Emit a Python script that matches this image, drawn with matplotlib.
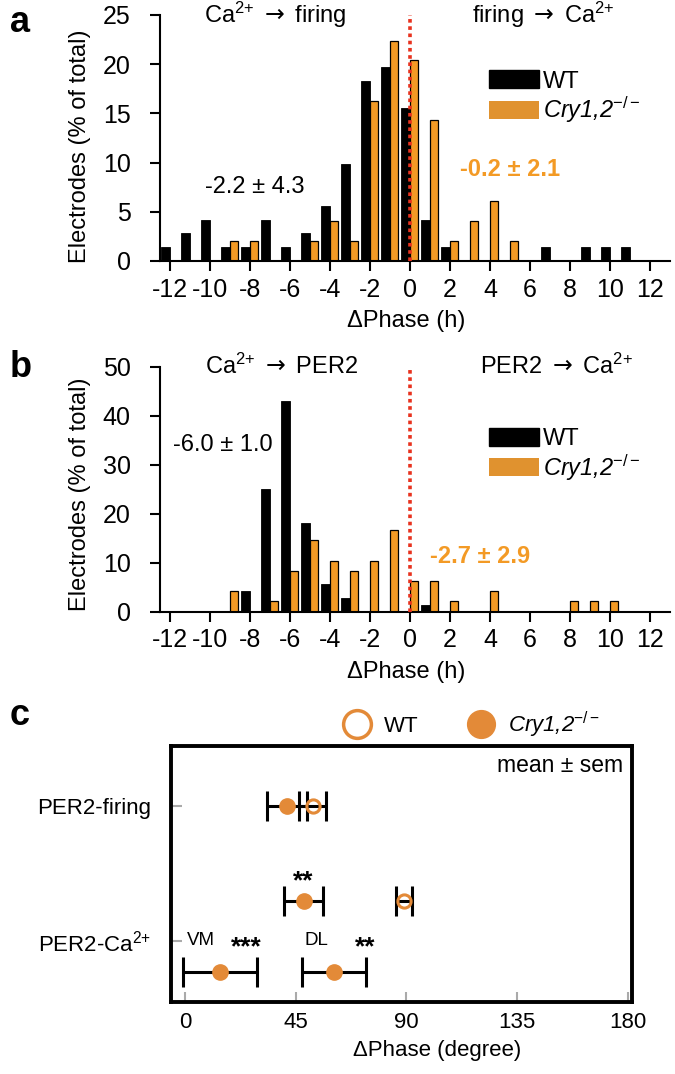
import numpy as np
import matplotlib.pyplot as plt
from matplotlib.patches import Patch
from matplotlib.lines import Line2D

plt.rcParams['font.family'] = ['Liberation Sans', 'DejaVu Sans']
plt.rcParams['mathtext.fontset'] = 'custom'
plt.rcParams['mathtext.rm'] = 'Liberation Sans'
plt.rcParams['mathtext.it'] = 'Liberation Sans:italic'
plt.rcParams['mathtext.bf'] = 'Liberation Sans:bold'
plt.rcParams['mathtext.sf'] = 'DejaVu Sans'
plt.rcParams['axes.unicode_minus'] = False

orange = '#F39A25'
orange_dot = '#E38A38'
red = '#E8321E'

# 1 h bins of phase difference (h)
phase_bins = np.arange(-12, 13)
phase_ticks = np.arange(-12, 13, 2)

# panel a: Ca2+ vs firing (% of electrodes)
a_wt = [1.4, 2.8, 4.2, 1.4, 1.4, 4.2, 1.4, 2.8, 5.6, 9.9, 18.3, 19.7, 15.5,
        4.2, 1.4, 0, 0, 0, 0, 1.4, 0, 1.4, 1.4, 1.4, 0]
a_cry = [0, 0, 0, 2.0, 2.0, 0, 0, 2.0, 4.1, 2.0, 16.3, 22.4, 20.4,
         14.3, 2.0, 4.1, 6.1, 2.0, 0, 0, 0, 0, 0, 0, 0]

# panel b: Ca2+ vs PER2 (% of electrodes)
b_wt = [0, 0, 0, 0, 4.2, 25.0, 43.1, 18.1, 5.6, 2.8, 0, 0, 0,
        1.4, 0, 0, 0, 0, 0, 0, 0, 0, 0, 0, 0]
b_cry = [0, 0, 0, 4.2, 0, 2.1, 8.3, 14.6, 10.4, 8.3, 10.4, 16.7, 6.2,
         6.2, 2.1, 0, 4.2, 0, 0, 0, 2.1, 2.1, 2.1, 0, 0]

# panel c: mean +- sem phase difference (degree)
c_rows = ['PER2-firing', 'PER2-Ca$^{2{+}}$']
c_wt_mean = [52.0, 89.0]
c_wt_sem = [5.5, 3.3]
c_cry_mean = [41.5, 48.2]
c_cry_sem = [8.2, 7.8]
c_regions = ['VM', 'DL']
c_region_mean = [14.1, 60.4]
c_region_sem = [15.0, 13.0]

cry_label = r'Cry1,2$^{-/-}$'
arrow = r'$\mathsf{\rightarrow}$'

fig = plt.figure(figsize=(6.75, 10.74), dpi=100)
W, H = 675, 1074


def px_axes(l, t, r, b):
    return fig.add_axes([l / W, 1 - b / H, (r - l) / W, (b - t) / H])


def hist_panel(ax, wt, cry, ymax, ystep, txt_l, txt_r, wt_txt, cry_txt, ylab_y, leg_y):
    ax.bar(phase_bins - 0.23, wt, width=0.46, color='black', edgecolor='black', lw=0.6, zorder=2)
    ax.bar(phase_bins + 0.2, cry, width=0.4, color=orange, edgecolor='black', lw=0.9, zorder=2)
    ax.axvline(0, color=red, lw=2.6, ls=(0, (1, 1)), zorder=3)
    ax.set_xlim(-12.5, 13)
    ax.set_ylim(0, ymax)
    ax.set_xticks(phase_ticks)
    ax.set_yticks(np.arange(0, ymax + 1, ystep))
    for s in ['top', 'right']:
        ax.spines[s].set_visible(False)
    for s in ['left', 'bottom']:
        ax.spines[s].set_linewidth(1.5)
    ax.tick_params(axis='both', direction='out', length=7, width=1.5, labelsize=18)
    ax.tick_params(axis='y', pad=14)
    ax.tick_params(axis='x', pad=5)
    ax.set_ylabel('Electrodes (% of total)', fontsize=17)
    ax.yaxis.set_label_coords(-0.135, ylab_y)
    ax.set_xlabel('ΔPhase (h)', fontsize=17)
    ax.xaxis.set_label_coords(0.482, -0.2)
    ax.text(txt_l[0], ymax, txt_l[1], fontsize=17, ha='center', va='center')
    ax.text(txt_r[0], ymax, txt_r[1], fontsize=17, ha='center', va='center')
    ax.text(wt_txt[0], wt_txt[1], wt_txt[2], fontsize=17, ha='center', va='center')
    ax.text(cry_txt[0], cry_txt[1], cry_txt[2], fontsize=17, ha='center', va='center',
            color=orange, fontweight='bold')
    handles = [Patch(facecolor='black', edgecolor='black'),
               Patch(facecolor='#E0922F', edgecolor='none')]
    leg = ax.legend(handles, ['WT', cry_label], loc='upper left',
                    bbox_to_anchor=(0.645, leg_y), frameon=False,
                    fontsize=17, handlelength=2.1, handleheight=0.8, handletextpad=0.2,
                    labelspacing=0.1, borderpad=0, borderaxespad=0)
    leg.get_texts()[1].set_fontstyle('italic')


ax_a = px_axes(160, 15, 670, 261)
hist_panel(ax_a, a_wt, a_cry, 25, 5,
           (-6.75, 'Ca$^{2{+}}$ ' + arrow + ' firing'), (6.65, 'firing ' + arrow + ' Ca$^{2{+}}$'),
           (-7.75, 7.5, '-2.2 ± 4.3'), (5.0, 9.25, '-0.2 ± 2.1'), 0.465, 0.775)

ax_b = px_axes(160, 366.7, 670, 611.7)
hist_panel(ax_b, b_wt, b_cry, 50, 10,
           (-6.4, 'Ca$^{2{+}}$ ' + arrow + ' PER2'), (7.3, 'PER2 ' + arrow + ' Ca$^{2{+}}$'),
           (-9.35, 34, '-6.0 ± 1.0'), (3.5, 11.2, '-2.7 ± 2.9'), 0.48, 0.75)

# panel c
ax_c = px_axes(170.7, 745.7, 632, 1002)
row_y = np.array([2.0, 0.0])
all_off = 0.59
reg_off = -0.46
eb = dict(fmt='none', ecolor='black', elinewidth=2.2, capsize=11, capthick=2.2, zorder=2)

# firing row: both genotypes on one line; Ca row: whole SCN above, regions below
y_pts = [row_y[0], row_y[1] + all_off]
ax_c.errorbar(c_wt_mean, y_pts, xerr=c_wt_sem, **eb)
ax_c.errorbar(c_cry_mean, y_pts, xerr=c_cry_sem, **eb)
ax_c.plot(c_wt_mean, y_pts, 'o', ms=9.5, mfc='none', mec=orange_dot, mew=2.2, zorder=3)
ax_c.plot(c_cry_mean, y_pts, 'o', ms=11, mfc=orange_dot, mec=orange_dot, zorder=3)

y_reg = [row_y[1] + reg_off] * len(c_regions)
ax_c.errorbar(c_region_mean, y_reg, xerr=c_region_sem, **eb)
ax_c.plot(c_region_mean, y_reg, 'o', ms=11, mfc=orange_dot, mec=orange_dot, zorder=3)

ax_c.text(0.7, 0.0, 'VM', fontsize=13.5, ha='left', va='center')
ax_c.text(48.5, 0.0, 'DL', fontsize=13.5, ha='left', va='center')
ax_c.text(48.2, 0.88, '**', fontsize=19, fontweight='bold', ha='center', va='center')
ax_c.text(25.0, -0.1, '***', fontsize=19, fontweight='bold', ha='center', va='center')
ax_c.text(73.3, -0.1, '**', fontsize=19, fontweight='bold', ha='center', va='center')
ax_c.text(178, 2.61, 'mean ± sem', fontsize=16.5, ha='right', va='center')

ax_c.set_xlim(-5.8, 181.7)
ax_c.set_ylim(-0.91, 2.9)
ax_c.set_xticks([0, 45, 90, 135, 180])
ax_c.set_yticks(row_y)
ax_c.set_yticklabels(c_rows)
for s in ax_c.spines.values():
    s.set_linewidth(2.8)
ax_c.tick_params(axis='both', direction='in', color='#AAAAAA', width=1.5, labelsize=16)
ax_c.tick_params(axis='x', length=7, pad=7)
ax_c.tick_params(axis='y', length=8, pad=14)
ax_c.set_xlabel('ΔPhase (degree)', fontsize=16)
ax_c.xaxis.set_label_coords(0.577, -0.15)

leg_handles = [Line2D([], [], ls='none', marker='o', ms=20, mfc='none', mec=orange_dot, mew=2.5),
               Line2D([], [], ls='none', marker='o', ms=20, mfc=orange_dot, mec=orange_dot)]
leg_c = ax_c.legend(leg_handles, ['WT', cry_label], loc='center',
                    bbox_to_anchor=(0.653, 1.081), ncol=2, frameon=False, fontsize=16,
                    handlelength=1.2, handletextpad=0.6, columnspacing=2.2,
                    borderpad=0, borderaxespad=0)
leg_c.get_texts()[1].set_fontstyle('italic')

fig.text(10 / W, 1 - 31.7 / H, 'a', fontsize=26, fontweight='bold', va='baseline')
fig.text(10 / W, 1 - 377.3 / H, 'b', fontsize=26, fontweight='bold', va='baseline')
fig.text(10 / W, 1 - 725 / H, 'c', fontsize=26, fontweight='bold', va='baseline')

plt.savefig('out.png', dpi=100)
